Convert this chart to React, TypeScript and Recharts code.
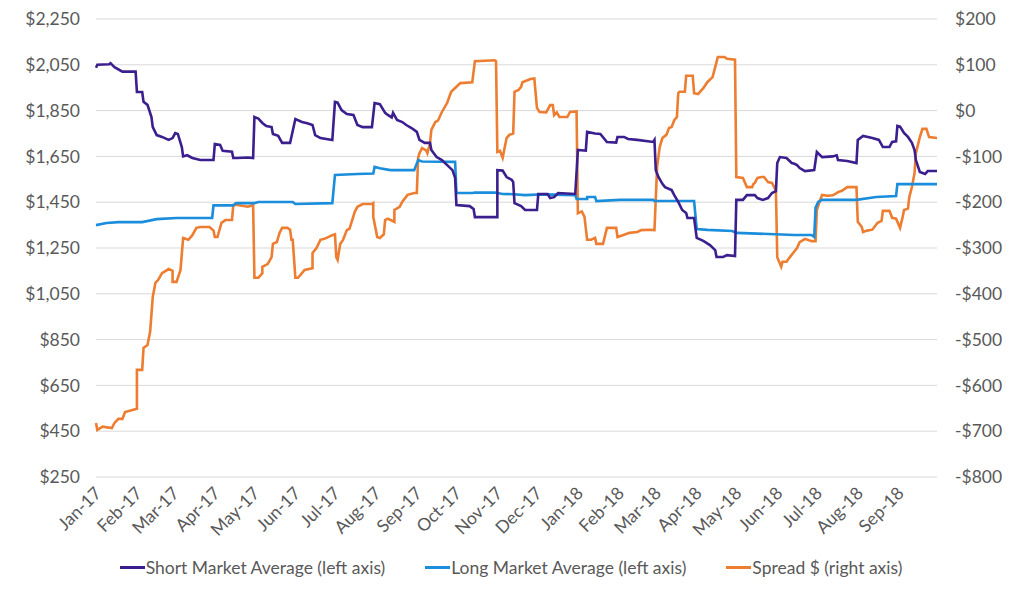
import React from 'react';
import { LineChart, Line, XAxis, YAxis, CartesianGrid, Legend } from 'recharts';

// x values are days counted from 1 Jan 2017
const monthStarts = [0, 31, 59, 90, 120, 151, 181, 212, 243, 273, 304, 334, 365, 396, 424, 455, 485, 516, 546, 577, 608];
const monthLabels = [
  'Jan-17', 'Feb-17', 'Mar-17', 'Apr-17', 'May-17', 'Jun-17', 'Jul-17', 'Aug-17', 'Sep-17', 'Oct-17', 'Nov-17',
  'Dec-17', 'Jan-18', 'Feb-18', 'Mar-18', 'Apr-18', 'May-18', 'Jun-18', 'Jul-18', 'Aug-18', 'Sep-18'
];
const leftTicks = [250, 450, 650, 850, 1050, 1250, 1450, 1650, 1850, 2050, 2250];
const rightTicks = [-800, -700, -600, -500, -400, -300, -200, -100, 0, 100, 200];

const shortSeries: [number, number][] = [
  [0, 2037], [1, 2050], [10, 2052], [11, 2057], [14, 2040], [20, 2020], [30, 2020], [31, 1931], [35, 1931],
  [36, 1888], [39, 1875], [42, 1822], [43, 1778], [46, 1743], [50, 1735], [55, 1722], [58, 1730], [60, 1752],
  [62, 1748], [65, 1691], [66, 1650], [69, 1655], [73, 1643], [79, 1634], [89, 1634], [90, 1704], [94, 1700],
  [96, 1674], [103, 1670], [104, 1643], [107, 1643], [115, 1645], [119, 1643], [120, 1822], [123, 1815],
  [126, 1796], [129, 1783], [133, 1778], [134, 1748], [138, 1740], [141, 1709], [147, 1709], [148, 1735],
  [151, 1813], [156, 1800], [160, 1795], [164, 1787], [166, 1743], [170, 1730], [179, 1722], [181, 1888],
  [183, 1885], [186, 1852], [190, 1835], [195, 1831], [198, 1787], [202, 1778], [209, 1778], [211, 1883],
  [215, 1878], [219, 1840], [221, 1831], [224, 1820], [225, 1840], [228, 1809], [232, 1800], [235, 1787],
  [239, 1774], [243, 1757], [245, 1722], [249, 1709], [253, 1709], [254, 1678], [258, 1647], [262, 1634],
  [266, 1612], [270, 1590], [272, 1556], [273, 1438], [283, 1433], [286, 1420], [287, 1385], [304, 1385],
  [304, 1590], [308, 1588], [311, 1560], [315, 1547], [316, 1538], [317, 1446], [322, 1433], [325, 1416],
  [334, 1416], [335, 1486], [342, 1486], [344, 1468], [347, 1472], [350, 1490], [363, 1486], [365, 1678],
  [371, 1675], [372, 1757], [378, 1750], [382, 1748], [387, 1713], [394, 1710], [395, 1735], [400, 1735],
  [403, 1726], [410, 1722], [422, 1713], [423, 1722], [424, 1590], [426, 1560], [429, 1530], [431, 1516],
  [436, 1503], [438, 1481], [441, 1451], [444, 1416], [447, 1403], [448, 1381], [453, 1381], [455, 1294],
  [460, 1281], [465, 1263], [469, 1241], [470, 1211], [475, 1211], [478, 1219], [484, 1215], [485, 1460],
  [490, 1460], [493, 1481], [499, 1481], [501, 1468], [505, 1460], [509, 1468], [512, 1490], [515, 1498],
  [516, 1621], [518, 1647], [523, 1643], [527, 1621], [529, 1618], [531, 1612], [533, 1599], [537, 1586],
  [544, 1590], [546, 1669], [550, 1647], [558, 1650], [561, 1655], [562, 1634], [569, 1630], [576, 1621],
  [577, 1722], [581, 1739], [588, 1730], [593, 1722], [596, 1691], [601, 1691], [603, 1713], [606, 1716],
  [607, 1783], [609, 1780], [612, 1752], [615, 1735], [618, 1709], [620, 1678], [621, 1634], [624, 1582],
  [628, 1573], [630, 1586], [637, 1586]
];

const longSeries: [number, number][] = [
  [0, 1350], [8, 1359], [17, 1363], [35, 1363], [46, 1376], [61, 1381], [88, 1381], [89, 1436], [104, 1436],
  [106, 1446], [120, 1446], [123, 1451], [149, 1451], [151, 1442], [179, 1446], [181, 1569], [198, 1573],
  [210, 1575], [211, 1604], [215, 1598], [223, 1590], [241, 1590], [244, 1634], [247, 1628], [272, 1626],
  [273, 1490], [285, 1490], [287, 1492], [302, 1492], [308, 1486], [316, 1485], [325, 1481], [338, 1484],
  [363, 1481], [364, 1464], [372, 1464], [372, 1473], [378, 1473], [379, 1455], [397, 1460], [422, 1460],
  [423, 1455], [453, 1455], [455, 1333], [463, 1329], [482, 1324], [485, 1316], [529, 1307], [542, 1307],
  [544, 1298], [545, 1425], [547, 1451], [550, 1460], [576, 1460], [591, 1473], [606, 1477], [607, 1529],
  [637, 1529]
];

const spreadSeries: [number, number][] = [
  [0, -682], [1, -697], [5, -690], [12, -693], [14, -682], [17, -673], [20, -673], [22, -658], [31, -651],
  [31, -566], [35, -566], [36, -518], [39, -512], [41, -483], [43, -407], [45, -376], [47, -370], [50, -355],
  [55, -346], [58, -350], [58, -374], [61, -374], [64, -348], [66, -278], [70, -282], [73, -272], [76, -256],
  [79, -254], [86, -254], [89, -262], [90, -276], [92, -276], [95, -245], [98, -239], [103, -239], [104, -206],
  [107, -206], [115, -210], [119, -206], [120, -365], [123, -365], [126, -355], [126, -341], [130, -335],
  [133, -320], [134, -291], [137, -287], [139, -267], [141, -256], [145, -256], [147, -260], [148, -282],
  [149, -282], [151, -365], [153, -365], [156, -355], [158, -348], [164, -344], [164, -311], [167, -300],
  [170, -282], [173, -280], [179, -272], [181, -270], [182, -320], [183, -326], [185, -291], [187, -283],
  [190, -261], [192, -258], [196, -221], [198, -210], [202, -204], [209, -204], [210, -202], [210, -232],
  [213, -276], [215, -278], [218, -270], [219, -239], [221, -236], [224, -240], [226, -243], [226, -217],
  [230, -210], [232, -199], [236, -184], [241, -180], [243, -180], [244, -103], [245, -93], [247, -82],
  [250, -87], [251, -93], [253, -71], [254, -42], [257, -25], [259, -22], [262, -3], [266, 17], [269, 41],
  [273, 52], [276, 60], [285, 62], [287, 108], [302, 110], [303, 108], [304, -90], [306, -88], [308, -103],
  [311, -60], [313, -53], [316, -50], [317, 41], [320, 45], [322, 52], [323, 62], [329, 69], [332, 70],
  [334, 6], [336, -3], [341, -4], [344, 12], [346, 12], [347, -10], [349, -4], [351, -14], [357, -14],
  [359, -3], [364, -2], [365, -224], [368, -220], [370, -232], [372, -282], [375, -282], [378, -278],
  [379, -291], [384, -291], [387, -256], [394, -256], [395, -276], [399, -272], [404, -267], [410, -265],
  [413, -261], [419, -260], [423, -261], [425, -123], [427, -79], [429, -60], [432, -53], [434, -38],
  [436, -36], [438, -21], [440, -14], [441, 38], [442, 41], [446, 41], [447, 76], [452, 76], [453, 38],
  [456, 36], [460, 49], [463, 62], [467, 73], [469, 95], [471, 117], [476, 117], [478, 113], [484, 111],
  [485, -145], [490, -147], [493, -167], [497, -167], [498, -160], [499, -158], [501, -147], [504, -145],
  [506, -145], [509, -156], [512, -158], [514, -169], [515, -176], [516, -320], [519, -341], [520, -330],
  [523, -330], [525, -322], [528, -311], [531, -300], [533, -287], [537, -280], [542, -285], [545, -285],
  [546, -217], [548, -199], [550, -184], [554, -186], [558, -185], [561, -180], [562, -178], [565, -175],
  [569, -167], [576, -167], [577, -243], [580, -254], [581, -265], [584, -262], [588, -260], [592, -245],
  [595, -241], [596, -219], [601, -219], [603, -234], [606, -236], [609, -256], [611, -232], [612, -217],
  [615, -214], [616, -189], [618, -167], [620, -136], [621, -93], [624, -58], [626, -40], [629, -40],
  [631, -58], [637, -60]
];

const toRows = (pts: [number, number][]) => pts.map(([day, v]) => ({ day, v }));

const FONT = 'Lato, "Open Sans", sans-serif';
const TEXT = '#595959';

const money = (v: number) => (v < 0 ? '-$' : '$') + Math.abs(v).toLocaleString('en-US');

const MonthTick = (props: any) => {
  const { x, y, payload } = props;
  const idx = monthStarts.indexOf(payload.value);
  return (
    <g transform={`translate(${x + 2},${y + 5}) rotate(-45)`}>
      <text x={0} y={0} dy="0.35em" textAnchor="end" fill={TEXT} fontSize={17.5} fontFamily={FONT}>
        {monthLabels[idx]}
      </text>
    </g>
  );
};

const legendItems = [
  { name: 'Short Market Average (left axis)', color: '#3b1f8e' },
  { name: 'Long Market Average (left axis)', color: '#1a8ddb' },
  { name: 'Spread $ (right axis)', color: '#ed7d31' }
];

const ChartLegend = () => (
  <div style={{ display: 'flex', justifyContent: 'center', gap: 40, fontFamily: FONT, fontSize: 17.5, color: TEXT }}>
    {legendItems.map((it) => (
      <div key={it.name} style={{ display: 'flex', alignItems: 'center' }}>
        <span style={{ display: 'inline-block', width: 25, height: 3, background: it.color, marginRight: 1 }} />
        <span>{it.name}</span>
      </div>
    ))}
  </div>
);

export default function App() {
  return (
    <div style={{ position: 'fixed', left: 0, top: 0, width: 1022, height: 598, background: '#fff' }}>
      <LineChart width={1022} height={598} margin={{ top: 19, right: 5, left: 16, bottom: 0 }}>
        <CartesianGrid vertical={false} stroke="#d9d9d9" yAxisId="left" />
        <XAxis
          dataKey="day"
          type="number"
          domain={[0, 637]}
          ticks={monthStarts}
          interval={0}
          height={121}
          axisLine={false}
          tickLine={false}
          tick={<MonthTick />}
        />
        <YAxis
          yAxisId="left"
          domain={[250, 2250]}
          ticks={leftTicks}
          width={80}
          axisLine={false}
          tickLine={false}
          tickMargin={10}
          tickFormatter={money}
          tick={{ fill: TEXT, fontSize: 17.5, fontFamily: FONT }}
        />
        <YAxis
          yAxisId="right"
          orientation="right"
          domain={[-800, 200]}
          ticks={rightTicks}
          width={80}
          axisLine={false}
          tickLine={false}
          tickMargin={12}
          tickFormatter={money}
          tick={{ fill: TEXT, fontSize: 17.5, fontFamily: FONT, textAnchor: 'start' }}
        />
        <Legend
          verticalAlign="middle"
          align="center"
          wrapperStyle={{ top: 557, left: 0, width: 1022 }}
          content={<ChartLegend />}
        />
        <Line
          yAxisId="right"
          data={toRows(spreadSeries)}
          dataKey="v"
          name="Spread $ (right axis)"
          stroke="#ed7d31"
          strokeWidth={2.6}
          dot={false}
          isAnimationActive={false}
        />
        <Line
          yAxisId="left"
          data={toRows(longSeries)}
          dataKey="v"
          name="Long Market Average (left axis)"
          stroke="#1a8ddb"
          strokeWidth={2.6}
          dot={false}
          isAnimationActive={false}
        />
        <Line
          yAxisId="left"
          data={toRows(shortSeries)}
          dataKey="v"
          name="Short Market Average (left axis)"
          stroke="#3b1f8e"
          strokeWidth={2.6}
          dot={false}
          isAnimationActive={false}
        />
      </LineChart>
    </div>
  );
}
